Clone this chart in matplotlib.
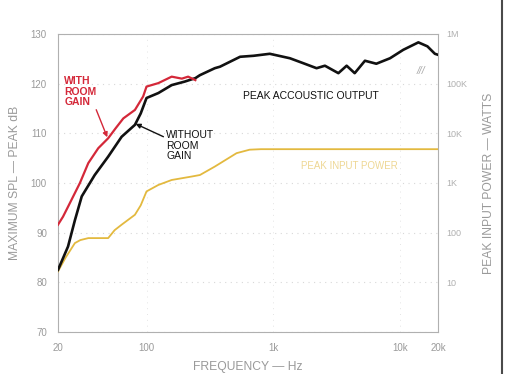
"""
Peak acoustic output vs. peak input power chart (scanned magazine style).
"""

import matplotlib
matplotlib.use("Agg")
import matplotlib.pyplot as plt
from matplotlib.lines import Line2D

# Data
red_freq = [20, 21.9, 24.1, 29.8, 34.7, 41.6, 49.8, 57, 65.6, 81, 94, 100, 124, 158, 190, 213, 243]
red_db = [91.6, 93.2, 95.3, 100, 104, 107, 109, 111, 113, 114.7, 117.4, 119.4, 120.1, 121.4, 121.0, 121.4, 120.7]

black_freq = [20, 24, 27.2, 30.8, 39, 49.8, 63.6, 81, 90, 100, 124, 158, 200, 243, 264, 346, 380,
              548, 700, 940, 1356, 1730, 2200, 2560, 3270, 3800, 4400, 5300, 6520, 8360, 10640,
              14000, 16500, 18900, 20000]
black_db = [82.5, 87.2, 92.5, 97.3, 101.6, 105.3, 109.3, 111.7, 114, 117.1, 118.1, 119.7, 120.4, 121.1,
            121.7, 123.1, 123.4, 125.4, 125.6, 126.0, 125.1, 124.1, 123.1, 123.6, 122.1, 123.6, 122.1,
            124.6, 124.0, 125.1, 126.8, 128.3, 127.5, 126.0, 125.8]

yellow_freq = [20, 23, 27.2, 30, 34.7, 49.8, 56, 63.6, 81, 90, 100, 124, 158, 228, 264, 346, 514,
               652, 800, 20000]
yellow_db = [82.2, 85, 87.9, 88.5, 88.9, 88.9, 90.5, 91.6, 93.6, 95.5, 98.3, 99.6, 100.6, 101.3,
             101.6, 103.3, 106, 106.7, 106.8, 106.8]

x_ticks = [20, 100, 1000, 10000, 20000]
x_labels = ["20", "100", "1k", "10k", "20k"]
y_ticks = [70, 80, 90, 100, 110, 120, 130]
watt_ticks = [80, 90, 100, 110, 120, 130]
watt_labels = ["10", "100", "1K", "10K", "100K", "1M"]

RED = "#d42839"
YELLOW = "#e3b93f"
GREY = "#9a9a9a"

plt.rcParams["font.family"] = ["Liberation Sans", "DejaVu Sans"]

fig = plt.figure(figsize=(5.06, 3.74), dpi=100)
ax = fig.add_axes([0.1146, 0.1123, 0.751, 0.797])

ax.plot(yellow_freq, yellow_db, color=YELLOW, lw=1.3, zorder=3)
ax.plot(black_freq, black_db, color="#111111", lw=1.9, zorder=4)
ax.plot(red_freq, red_db, color=RED, lw=1.6, zorder=5)

ax.set_xscale("log")
ax.set_xlim(20, 20000)
ax.set_ylim(70, 130)
ax.set_xticks(x_ticks)
ax.set_xticklabels(x_labels)
ax.minorticks_off()
ax.set_yticks(y_ticks)
ax.tick_params(length=0, labelsize=7, colors=GREY, pad=8)
for s in ax.spines.values():
    s.set_color("#b0b0b0")
    s.set_linewidth(0.8)

# faint dotted grid
ax.grid(True, axis="y", color="#d8d8d8", ls=(0, (1, 4)), lw=0.8)
ax.grid(True, axis="x", color="#e4e4e4", ls=(0, (1, 5)), lw=0.7)

ax.set_xlabel("FREQUENCY \u2014 Hz", fontsize=8.7, color=GREY, labelpad=6)
ax.set_ylabel("MAXIMUM SPL \u2014 PEAK dB", fontsize=8.7, color=GREY, labelpad=7)

ax2 = ax.twinx()
ax2.set_ylim(70, 130)
ax2.set_yticks(watt_ticks)
ax2.set_yticklabels(watt_labels)
ax2.tick_params(length=0, labelsize=6.5, colors="#b0b0b0", pad=6)
for s in ax2.spines.values():
    s.set_visible(False)
ax2.set_ylabel("PEAK INPUT POWER \u2014 WATTS", fontsize=8.7, color=GREY, labelpad=11)

# annotations
ax.annotate("WITH\nROOM\nGAIN", xy=(49, 109.2), xytext=(22.5, 121.5),
            fontsize=7.5, color=RED, fontweight="bold", ha="left", va="top",
            linespacing=1.05,
            arrowprops=dict(arrowstyle="-|>", color=RED, lw=1.0,
                            shrinkA=0, shrinkB=0, mutation_scale=7,
                            relpos=(0.95, 0.0)))
ax.annotate("WITHOUT\nROOM\nGAIN", xy=(82, 111.9), xytext=(143, 110.6),
            fontsize=7.5, color="#111111", ha="left", va="top",
            linespacing=1.05,
            arrowprops=dict(arrowstyle="-|>", color="#111111", lw=1.0,
                            shrinkA=0, shrinkB=0, mutation_scale=7,
                            relpos=(0.0, 0.75)))
ax.text(2000, 117.5, "PEAK ACCOUSTIC OUTPUT", fontsize=7.5, color="#111111",
        ha="center", va="center")
ax.text(4000, 103.4, "PEAK INPUT POWER", fontsize=7, color="#eed793",
        ha="center", va="center")
ax.text(14700, 122.6, "///", fontsize=7.5, color="#a8a8a8", style="italic",
        ha="center", va="center")

# dark scan edge on the right
fig.add_artist(Line2D([0.992, 0.992], [0, 1], transform=fig.transFigure,
                      color="#4a4a4a", lw=1.5))

fig.savefig("out.png", dpi=100)
